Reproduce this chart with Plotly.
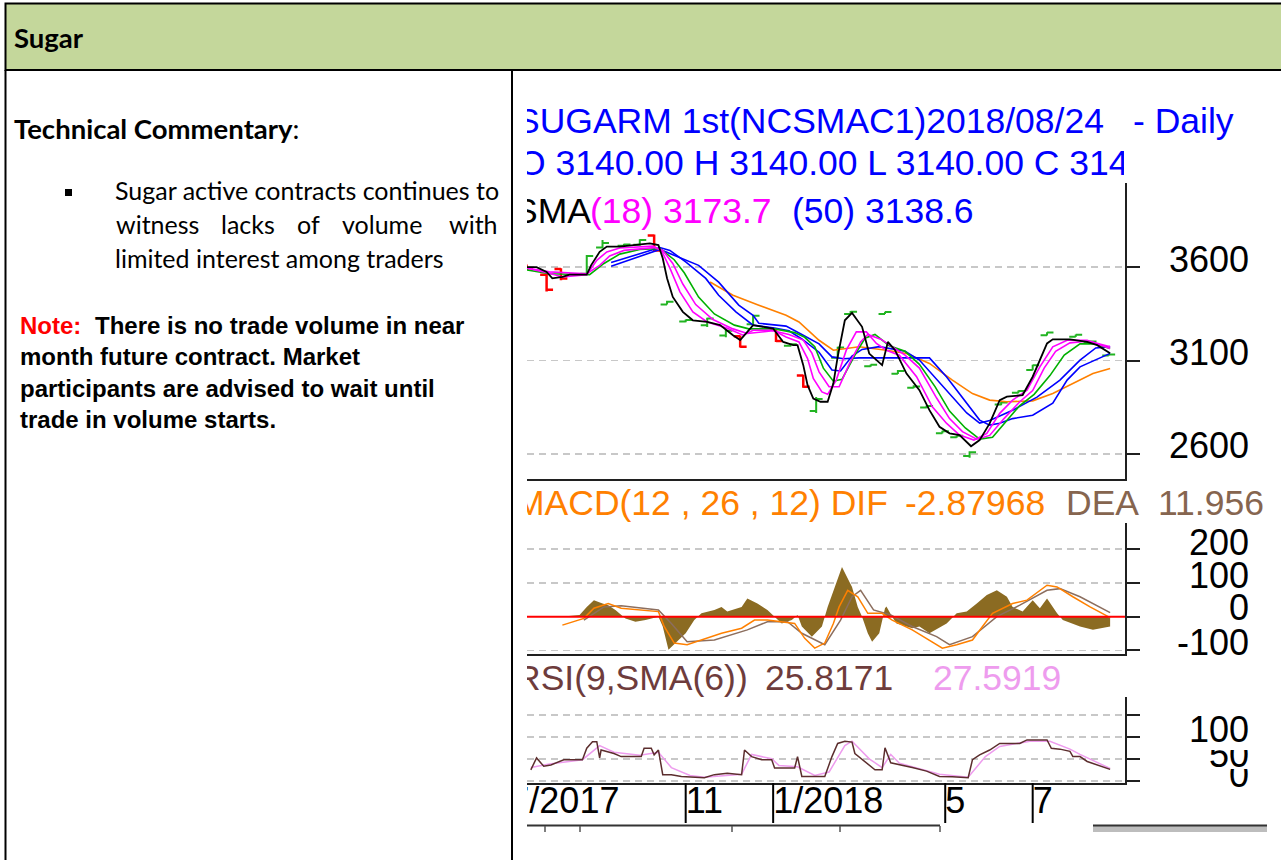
import plotly.graph_objects as go

W, H = 1281, 860

# ---------------- price panel data (NCSMAC1 daily) ----------------
close_dates = ["2017-07-10","2017-07-20","2017-07-27","2017-07-31","2017-08-07","2017-08-12","2017-08-24","2017-08-27",
               "2017-09-02","2017-09-07","2017-09-16","2017-09-25","2017-10-07","2017-10-13","2017-10-16","2017-10-19",
               "2017-10-23","2017-10-30","2017-11-06","2017-11-16","2017-11-25","2017-12-04","2017-12-09","2017-12-14",
               "2017-12-18","2018-01-01","2018-01-08","2018-01-15","2018-01-18","2018-01-22","2018-01-25","2018-01-29",
               "2018-02-03","2018-02-08","2018-02-12","2018-02-15","2018-02-20","2018-02-25","2018-03-04","2018-03-09",
               "2018-03-18","2018-03-22","2018-03-27","2018-04-04","2018-04-13","2018-04-20","2018-04-27","2018-05-04",
               "2018-05-11","2018-05-19","2018-05-25","2018-06-01","2018-06-08","2018-06-13","2018-06-24","2018-07-01",
               "2018-07-06","2018-07-11","2018-07-15","2018-07-27","2018-08-08","2018-08-15","2018-08-24"]
close_vals = [3600,3600,3575,3540,3548,3560,3560,3610,
              3682,3710,3710,3718,3727,3718,3648,3541,
              3441,3361,3316,3307,3290,3236,3210,3254,
              3290,3272,3200,3183,3183,3076,2969,2897,
              2880,2880,2979,3120,3316,3355,3281,3138,
              3076,3200,3156,3031,2942,2835,2746,2711,
              2702,2642,2675,2764,2889,2907,2916,3014,
              3103,3192,3214,3214,3200,3183,3140]

m1_dates = ["2017-07-10","2017-07-29","2017-08-07","2017-08-24","2017-08-31","2017-09-07","2017-09-16","2017-10-09",
            "2017-10-15","2017-10-21","2017-10-28","2017-11-06","2017-11-16","2017-11-30","2017-12-11","2017-12-18",
            "2018-01-01","2018-01-10","2018-01-19","2018-01-25","2018-01-29","2018-02-04","2018-02-08","2018-02-14",
            "2018-02-21","2018-02-28","2018-03-07","2018-03-14","2018-03-21","2018-03-30","2018-04-11","2018-04-22",
            "2018-05-02","2018-05-11","2018-05-21","2018-05-30","2018-06-08","2018-06-17","2018-06-27","2018-07-06",
            "2018-07-15","2018-07-25","2018-08-08","2018-08-24"]
m1_vals = [3600,3568,3548,3560,3637,3682,3703,3713,
           3691,3595,3468,3361,3307,3273,3236,3263,
           3263,3227,3200,3111,3005,2933,2920,2996,
           3156,3254,3254,3192,3156,3129,3014,2853,
           2764,2702,2675,2711,2818,2889,2942,3067,
           3174,3209,3209,3165]

m2_dates = ["2017-07-10","2017-07-29","2017-08-24","2017-09-02","2017-09-09","2017-09-19","2017-10-10","2017-10-16",
            "2017-10-23","2017-10-30","2017-11-08","2017-11-20","2017-12-04","2017-12-14","2018-01-01","2018-01-12",
            "2018-01-22","2018-01-28","2018-02-02","2018-02-09","2018-02-16","2018-02-23","2018-03-03","2018-03-08",
            "2018-03-17","2018-03-26","2018-04-03","2018-04-13","2018-04-25","2018-05-04","2018-05-13","2018-05-23",
            "2018-06-01","2018-06-11","2018-06-22","2018-07-01","2018-07-09","2018-07-17","2018-07-27","2018-08-09",
            "2018-08-24"]
m2_vals = [3600,3575,3565,3610,3660,3690,3705,3690,
           3620,3510,3400,3320,3270,3245,3260,3240,
           3210,3140,3040,2960,2960,3080,3200,3240,
           3215,3170,3130,3060,2900,2790,2720,2680,
           2700,2790,2880,2940,3060,3150,3195,3205,
           3174]

g_dates = ["2017-07-10","2017-07-29","2017-08-26","2017-09-05","2017-09-16","2017-09-30","2017-10-14","2017-10-24",
           "2017-10-31","2017-11-10","2017-11-21","2017-12-05","2017-12-15","2018-01-02","2018-01-16","2018-01-23",
           "2018-01-30","2018-02-05","2018-02-12","2018-02-18","2018-02-27","2018-03-06","2018-03-13","2018-03-23",
           "2018-04-03","2018-04-13","2018-04-24","2018-05-04","2018-05-15","2018-05-25","2018-06-03","2018-06-11",
           "2018-06-22","2018-07-02","2018-07-13","2018-07-23","2018-08-03","2018-08-13","2018-08-24"]
g_vals = [3590,3565,3560,3620,3670,3695,3700,3640,
          3570,3440,3350,3290,3270,3270,3250,3225,
          3175,3060,2990,3000,3130,3220,3240,3180,
          3150,3080,2960,2830,2740,2680,2690,2760,
          2860,2920,3020,3130,3190,3190,3165]

bf_dates = ["2017-09-10","2017-10-14","2017-10-21","2017-11-01","2017-11-15","2017-11-24","2017-12-06","2017-12-18",
            "2018-01-02","2018-01-12","2018-01-21","2018-02-02","2018-02-11","2018-02-17","2018-02-25","2018-03-04",
            "2018-03-16","2018-04-03","2018-04-13","2018-05-02","2018-05-16","2018-05-25","2018-06-01","2018-06-17",
            "2018-07-04","2018-07-20","2018-08-03","2018-08-14","2018-08-24"]
bf_vals = [3625,3705,3690,3628,3540,3450,3361,3290,
           3275,3260,3216,3145,3050,3045,3125,3160,
           3175,3150,3103,2943,2820,2766,2780,2835,
           2905,2996,3103,3168,3175]

bs_dates = ["2017-09-10","2017-10-14","2017-11-10","2017-11-24","2017-12-08","2017-12-18","2017-12-22","2018-01-10",
            "2018-01-21","2018-02-02","2018-02-11","2018-02-19","2018-03-02","2018-03-16","2018-04-20","2018-05-02",
            "2018-05-13","2018-05-25","2018-06-01","2018-06-08","2018-06-17","2018-07-01","2018-07-15","2018-07-25",
            "2018-08-03","2018-08-17","2018-08-24"]
bs_vals = [3605,3695,3610,3520,3397,3343,3300,3285,
           3240,3190,3120,3110,3115,3115,3115,3013,
           2905,2782,2755,2765,2790,2808,2873,2996,
           3067,3115,3139]

o_dates = ["2017-11-18","2017-12-04","2017-12-22","2018-01-10","2018-01-19","2018-02-02","2018-02-12","2018-03-02",
           "2018-03-21","2018-04-04","2018-04-20","2018-05-06","2018-05-20","2018-06-01","2018-06-13","2018-07-01",
           "2018-07-15","2018-07-29","2018-08-12","2018-08-24"]
o_vals = [3521,3450,3397,3343,3307,3209,3156,3174,
          3156,3138,3085,2996,2924,2889,2880,2885,
          2924,2978,3031,3058]

bar_dates = ["2017-07-13","2017-07-27","2017-08-06","2017-08-24","2017-09-04","2017-09-19","2017-09-30","2017-10-10",
             "2017-10-19","2017-11-01","2017-11-16","2017-11-29","2017-12-09","2017-12-18","2018-01-03","2018-01-13",
             "2018-01-22","2018-01-31","2018-02-15","2018-02-24","2018-03-10","2018-03-20","2018-03-29","2018-04-09",
             "2018-04-18","2018-04-29","2018-05-09","2018-05-18","2018-06-09","2018-06-21","2018-07-01","2018-07-11",
             "2018-07-31","2018-08-10","2018-08-23"]
bar_open = [3610,3560,3590,3565,3705,3715,3720,3770,3400,3310,3290,3235,3230,3295,3265,3180,3020,2830,
            3115,3350,3070,3350,3030,2955,2850,2712,2690,2590,2865,2928,3050,3236,3228,3195,3128]
bar_high = [3615,3565,3595,3665,3745,3725,3750,3775,3420,3320,3330,3265,3235,3345,3270,3190,3025,2905,
            3175,3365,3080,3362,3050,2968,2860,2725,2700,2615,2880,2940,3078,3252,3240,3205,3135]
bar_low = [3590,3470,3530,3560,3700,3712,3715,3685,3400,3305,3280,3225,3170,3290,3200,3175,2955,2820,
           3110,3350,3068,3350,3028,2952,2845,2710,2688,2580,2862,2926,3048,3234,3226,3193,3126]
bar_close = [3595,3480,3540,3660,3730,3722,3745,3690,3415,3318,3325,3260,3175,3340,3205,3188,2960,2895,
             3170,3362,3078,3360,3045,2962,2858,2722,2698,2610,2876,2938,3075,3250,3238,3203,3133]

# ---------------- MACD(12,26,12) ----------------
hist_dates = ["2017-08-06","2017-08-19","2017-08-24","2017-08-29","2017-09-04","2017-09-08","2017-09-13","2017-09-20",
              "2017-09-27","2017-10-04","2017-10-13","2017-10-16","2017-10-20","2017-10-25","2017-11-01","2017-11-07",
              "2017-11-12","2017-11-21","2017-11-26","2017-11-30","2017-12-10","2017-12-14","2017-12-21","2017-12-28",
              "2018-01-02","2018-01-07","2018-01-14","2018-01-18","2018-01-21","2018-01-28","2018-02-04","2018-02-08",
              "2018-02-13","2018-02-18","2018-02-25","2018-03-01","2018-03-04","2018-03-08","2018-03-11","2018-03-16",
              "2018-03-20","2018-03-21","2018-03-25","2018-03-28","2018-04-08","2018-04-13","2018-04-20","2018-05-02",
              "2018-05-09","2018-05-16","2018-05-23","2018-05-30","2018-06-06","2018-06-13","2018-06-17","2018-06-24",
              "2018-07-01","2018-07-06","2018-07-11","2018-07-18","2018-07-22","2018-08-03","2018-08-12","2018-08-24"]
hist_vals = [0,5,29,49,39,34,20,-5,
             -15,-10,0,-29,-98,-78,-49,-10,
             10,20,29,15,29,54,39,20,
             0,-20,-10,5,-29,-59,-29,29,
             88,147,88,29,0,-49,-74,-49,
             25,30,0,-20,-34,-29,-49,-20,
             10,15,39,64,78,59,29,15,
             49,25,54,10,-10,-29,-39,-29]

dif_dates = ["2017-08-07","2017-08-22","2017-08-29","2017-09-08","2017-09-17","2017-10-01","2017-10-13","2017-10-17",
             "2017-10-24","2017-11-02","2017-11-12","2017-11-26","2017-12-10","2017-12-19","2017-12-28","2018-01-07",
             "2018-01-16","2018-01-23","2018-01-30","2018-02-06","2018-02-12","2018-02-16","2018-02-22","2018-03-01",
             "2018-03-08","2018-03-18","2018-03-25","2018-04-08","2018-04-20","2018-04-29","2018-05-09","2018-05-20",
             "2018-05-27","2018-06-03","2018-06-17","2018-06-27","2018-07-11","2018-07-18","2018-07-29","2018-08-10",
             "2018-08-24"]
dif_vals = [-25,-5,25,39,25,20,15,-29,
            -78,-83,-69,-49,-34,-10,-10,-15,
            -20,-64,-93,-78,-20,29,78,59,
            10,10,-10,-39,-69,-93,-83,-69,
            -29,10,39,49,93,88,59,29,
            -3]

dea_dates = ["2017-08-22","2017-09-05","2017-09-17","2017-10-13","2017-10-22","2017-11-02","2017-11-21","2017-12-14",
             "2017-12-28","2018-01-11","2018-01-21","2018-02-06","2018-02-17","2018-02-25","2018-03-03","2018-03-12",
             "2018-03-24","2018-04-08","2018-04-25","2018-05-04","2018-05-20","2018-06-06","2018-06-22","2018-07-11",
             "2018-07-20","2018-08-03","2018-08-24"]
dea_vals = [-10,29,32,20,-20,-74,-69,-39,
            -15,-15,-49,-83,-10,59,78,20,
            5,-29,-59,-83,-59,0,34,78,
            83,59,12]

# ---------------- RSI(9, SMA(6)) ----------------
rsi_dates = ["2017-07-16","2017-07-20","2017-07-25","2017-07-30","2017-08-08","2017-08-21","2017-08-24","2017-08-28",
             "2017-08-31","2017-09-02","2017-09-03","2017-09-12","2017-09-17","2017-10-01","2017-10-03","2017-10-08",
             "2017-10-10","2017-10-13","2017-10-16","2017-10-22","2017-10-29","2017-11-14","2017-11-21","2017-11-30",
             "2017-12-10","2017-12-12","2017-12-17","2017-12-24","2017-12-31","2018-01-02","2018-01-16","2018-01-18",
             "2018-01-21","2018-02-06","2018-02-11","2018-02-15","2018-02-20","2018-02-25","2018-02-27","2018-03-06",
             "2018-03-13","2018-03-18","2018-03-20","2018-03-24","2018-03-30","2018-04-08","2018-04-18","2018-04-27",
             "2018-05-06","2018-05-17","2018-05-20","2018-05-25","2018-06-01","2018-06-08","2018-06-22","2018-06-27",
             "2018-07-11","2018-07-14","2018-07-20","2018-07-27","2018-07-29","2018-08-03","2018-08-08","2018-08-15",
             "2018-08-24"]
rsi_vals = [25,52,33,36,48,48,74,89,
            89,52,70,62,55,55,74,74,
            59,70,14,14,10,7,14,17,
            14,70,55,48,48,29,29,55,
            10,10,55,85,90,88,62,44,
            25,25,75,41,37,30,22,10,
            9,7,48,59,70,85,85,93,
            93,74,72,67,55,55,44,36,
            26]

rsima_dates = ["2017-07-16","2017-07-29","2017-08-21","2017-09-02","2017-09-12","2017-09-30","2017-10-13","2017-10-22",
               "2017-11-04","2017-11-14","2017-12-10","2017-12-17","2017-12-31","2018-01-05","2018-01-18","2018-01-30",
               "2018-02-09","2018-02-20","2018-02-25","2018-03-09","2018-03-18","2018-03-24","2018-03-30","2018-04-27",
               "2018-05-17","2018-05-29","2018-06-08","2018-06-29","2018-07-13","2018-07-27","2018-08-03","2018-08-24"]
rsima_vals = [30,38,48,80,65,58,65,30,
              12,8,15,60,50,35,32,12,
              20,80,90,50,30,60,40,15,
              8,55,78,90,90,72,60,28]

# ---------------- axis labels ----------------
month_tick_dates = ["2017-07-01", "2017-11-01", "2018-01-01", "2018-05-01", "2018-07-01"]
month_tick_text = ["7/2017", "11", "1/2018", "5", "7"]
price_ticks = [2600, 3100, 3600]
macd_ticks = [-100, 0, 100, 200]
rsi_ticks = [0, 50, 100, 150]

for a, b in [(close_dates, close_vals), (m1_dates, m1_vals), (m2_dates, m2_vals), (g_dates, g_vals),
             (bf_dates, bf_vals), (bs_dates, bs_vals), (o_dates, o_vals), (bar_dates, bar_open),
             (bar_dates, bar_high), (bar_dates, bar_low), (bar_dates, bar_close), (hist_dates, hist_vals),
             (dif_dates, dif_vals), (dea_dates, dea_vals), (rsi_dates, rsi_vals), (rsima_dates, rsima_vals)]:
    assert len(a) == len(b), (len(a), len(b))

# ---------------- helpers ----------------
def fx(p):
    return p / W


def fy(p):
    return 1 - p / H


ARIAL = "Liberation Sans, Arial, sans-serif"
CALI = "Lato, Carlito, Calibri, sans-serif"
X_RANGE = ["2017-07-13 08:00", "2018-09-03 09:00"]
PL, PR = 527, 1125

fig = go.Figure()


def add_line(xs, ys, color, xa, ya, width=1.6):
    fig.add_trace(go.Scatter(x=xs, y=ys, mode="lines", line=dict(color=color, width=width),
                             xaxis=xa, yaxis=ya, hoverinfo="skip", showlegend=False))


def add_texts(xa, ya, xs, bases, strs, colors, sizes, positions, family=ARIAL):
    ys = [b - 0.25 * s for b, s in zip(bases, sizes)]
    fig.add_trace(go.Scatter(x=xs, y=ys, text=strs, mode="text", textposition=positions,
                             textfont=dict(family=family, size=sizes, color=colors),
                             xaxis=xa, yaxis=ya, cliponaxis=True, hoverinfo="skip", showlegend=False))


# ---- price panel ----
fig.add_trace(go.Ohlc(x=bar_dates, open=bar_open, high=bar_high, low=bar_low, close=bar_close,
                      increasing=dict(line=dict(color="#22B422", width=2)),
                      decreasing=dict(line=dict(color="#FF0000", width=2.5)),
                      tickwidth=0.5, xaxis="x", yaxis="y", hoverinfo="skip", showlegend=False))
add_line(o_dates, o_vals, "#FF8000", "x", "y")
add_line(bs_dates, bs_vals, "#0000FF", "x", "y")
add_line(bf_dates, bf_vals, "#0000FF", "x", "y")
add_line(g_dates, g_vals, "#00B000", "x", "y")
add_line(m2_dates, m2_vals, "#FF00FF", "x", "y")
add_line(m1_dates, m1_vals, "#FF00FF", "x", "y")
add_line(close_dates, close_vals, "#000000", "x", "y", 1.8)

# ---- MACD panel ----
fig.add_trace(go.Scatter(x=hist_dates, y=hist_vals, mode="lines", line=dict(width=0, color="#8B6B22"),
                         fill="tozeroy", fillcolor="#8B6B22", xaxis="x2", yaxis="y2",
                         hoverinfo="skip", showlegend=False))
add_line(dea_dates, dea_vals, "#8C6E5E", "x2", "y2", 1.5)
add_line(dif_dates, dif_vals, "#FF8000", "x2", "y2", 1.5)

# ---- RSI panel ----
add_line(rsima_dates, rsima_vals, "#EE9CEE", "x3", "y3", 1.5)
add_line(rsi_dates, rsi_vals, "#5C2E2E", "x3", "y3", 1.5)

# ---- axes ----
common_x = dict(type="date", range=X_RANGE, domain=[fx(PL), fx(PR)], showgrid=False, zeroline=False,
                showticklabels=False, ticks="", showline=True, linecolor="#202020", linewidth=2,
                fixedrange=True)


def y_axis(top, bot, rng, tickvals, anchor):
    return dict(domain=[fy(bot), fy(top)], range=rng, side="right", anchor=anchor, tickvals=tickvals,
                showticklabels=False, ticks="outside", ticklen=13, tickwidth=2, tickcolor="#202020",
                showline=True, linecolor="#202020", linewidth=2, showgrid=True, gridcolor="#C8C8C8",
                gridwidth=1.5, griddash="7px,5px", zeroline=False, fixedrange=True)


fig.update_layout(
    xaxis=dict(**common_x, anchor="y", rangeslider=dict(visible=False)),
    xaxis2=dict(**common_x, anchor="y2"),
    xaxis3=dict(**common_x, anchor="y3"),
    yaxis=y_axis(183, 479, [2466.8, 4050.5], price_ticks, "x"),
    yaxis2=y_axis(523, 654, [-110.4, 277.2], macd_ticks, "x2"),
    yaxis3=y_axis(697, 783, [-5, 190.5], rsi_ticks, "x3"),
)


def pix_axes(n, x0, x1, y0, y1):
    fig.layout[f"xaxis{n}"] = dict(domain=[fx(x0), fx(x1)], range=[x0, x1], visible=False,
                                   fixedrange=True, anchor=f"y{n}")
    fig.layout[f"yaxis{n}"] = dict(domain=[fy(y1), fy(y0)], range=[y1, y0], visible=False,
                                   fixedrange=True, anchor=f"x{n}")


pix_axes(4, 527, 1281, 90, 840)     # chart picture text
pix_axes(5, 527, 1124, 140, 185)    # OHLC line (clipped at right)
pix_axes(6, 1150, 1281, 750, 768)   # half-hidden "50"
pix_axes(7, 1150, 1281, 769, 792)   # half-hidden "0"
pix_axes(9, 0, 1281, 0, 860)        # whole page (left cell text)
fig.layout["yaxis8"] = dict(domain=[fy(824), fy(784)], range=[824, 784], visible=False,
                            fixedrange=True, anchor="x3")

BLUE, MAG, ORG, DEA_C, RSI_C, PINK = "#0000FF", "#FF00FF", "#FF8000", "#86654F", "#6E3C3C", "#EE9CEE"
TS = 35.5
LS = 36
add_texts("x4", "y4",
          [516, 1133, 514, 590, 792, 515, 905, 1066, 1158, 515, 765, 933],
          [133, 133, 223, 223, 223, 515, 515, 515, 515, 690, 690, 690],
          ["SUGARM 1st(NCSMAC1)2018/08/24", "- Daily", "SMA", "(18) 3173.7", "(50) 3138.6",
           "MACD(12 , 26 , 12) DIF", "-2.87968", "DEA", "11.956", "RSI(9,SMA(6))", "25.8171", "27.5919"],
          [BLUE, BLUE, "#000000", MAG, BLUE, ORG, ORG, DEA_C, DEA_C, RSI_C, RSI_C, PINK],
          [TS] * 12, ["middle right"] * 12)
add_texts("x5", "y5", [518], [175], ["O 3140.00 H 3140.00 L 3140.00 C 3140.00"], [BLUE], [TS],
          ["middle right"])

# right-hand value labels
add_texts("x4", "y4",
          [1249] * 8,
          [271.7, 365, 458.3, 555, 588.3, 620, 655, 741.7],
          [str(v) for v in sorted(price_ticks, reverse=True)] + [str(v) for v in sorted(macd_ticks, reverse=True)]
          + [str(rsi_ticks[2])],
          ["#000000"] * 8, [LS] * 8, ["middle left"] * 8)
add_texts("x6", "y6", [1249], [766.7], [str(rsi_ticks[1])], ["#000000"], [LS], ["middle left"])
add_texts("x7", "y7", [1249], [787], [str(rsi_ticks[0])], ["#000000"], [LS], ["middle left"])

# month labels (on the shared date axis)
add_texts("x3", "y8", month_tick_dates, [813.3] * 5, month_tick_text, ["#000000"] * 5, [LS] * 5,
          ["middle right"] * 5)

# ---- left cell text ----
BS = 25
HS = 27.5
add_texts("x9", "y9",
          [14, 14, 115, 116, 221, 297, 342, 449, 115],
          [48, 139, 200, 234, 234, 234, 234, 234, 268],
          ["<b>Sugar</b>", "<b>Technical Commentary</b>:", "Sugar active contracts continues to",
           "witness", "lacks", "of", "volume", "with", "limited interest among traders"],
          ["#000000"] * 9, [HS, HS] + [BS] * 7, ["middle right"] * 9, family=CALI)
add_texts("x9", "y9",
          [20, 95, 20, 20, 20],
          [333.5, 333.5, 365, 396.5, 428],
          ["<b>Note:</b>", "<b>There is no trade volume in near</b>", "<b>month future contract. Market</b>",
           "<b>participants are advised to wait until</b>", "<b>trade in volume starts.</b>"],
          ["#FF0000", "#000000", "#000000", "#000000", "#000000"], [24] * 5, ["middle right"] * 5)

# ---- shapes: table frame, header, bullet, decorations ----
shapes = [
    dict(type="rect", xref="paper", yref="paper", x0=fx(5.5), x1=fx(1290), y0=fy(70), y1=fy(3.5),
         fillcolor="#C4D79B", line=dict(color="#000000", width=2), layer="below"),
    dict(type="line", xref="paper", yref="paper", x0=fx(5.5), x1=fx(5.5), y0=fy(860), y1=fy(70),
         line=dict(color="#000000", width=2)),
    dict(type="line", xref="paper", yref="paper", x0=fx(512), x1=fx(512), y0=fy(860), y1=fy(70),
         line=dict(color="#000000", width=2)),
    dict(type="rect", xref="paper", yref="paper", x0=fx(65), x1=fx(72), y0=fy(196), y1=fy(189),
         fillcolor="#000000", line=dict(width=0)),
    # red zero line of MACD
    dict(type="line", xref="x2 domain", yref="y2", x0=0, x1=1, y0=0, y1=0,
         line=dict(color="#FF0000", width=2), layer="above"),
    # bottom strip of the chart picture
    dict(type="line", xref="paper", yref="paper", x0=fx(527), x1=fx(940), y0=fy(825.5), y1=fy(825.5),
         line=dict(color="#333333", width=2)),
    dict(type="rect", xref="paper", yref="paper", x0=fx(1093), x1=fx(1267), y0=fy(832), y1=fy(826),
         fillcolor="#BDBDBD", line=dict(width=0)),
    dict(type="line", xref="paper", yref="paper", x0=fx(1093), x1=fx(1267), y0=fy(825.5), y1=fy(825.5),
         line=dict(color="#333333", width=2)),
]
for tx in [545, 580, 732, 840, 940]:
    shapes.append(dict(type="line", xref="paper", yref="paper", x0=fx(tx), x1=fx(tx), y0=fy(832),
                       y1=fy(826), line=dict(color="#555555", width=1.5)))
for d in month_tick_dates:
    if d >= X_RANGE[0][:10]:
        shapes.append(dict(type="line", xref="x3", yref="paper", x0=d, x1=d, y0=fy(823), y1=fy(783),
                           line=dict(color="#000000", width=2)))

fig.update_layout(
    width=W, height=H, margin=dict(l=0, r=0, t=0, b=0),
    paper_bgcolor="#FFFFFF", plot_bgcolor="rgba(0,0,0,0)",
    showlegend=False, shapes=shapes,
)

fig.write_html("out.html", config={"displayModeBar": False, "staticPlot": True},
               post_script="document.body.style.margin='0px';document.body.style.overflow='hidden';")
